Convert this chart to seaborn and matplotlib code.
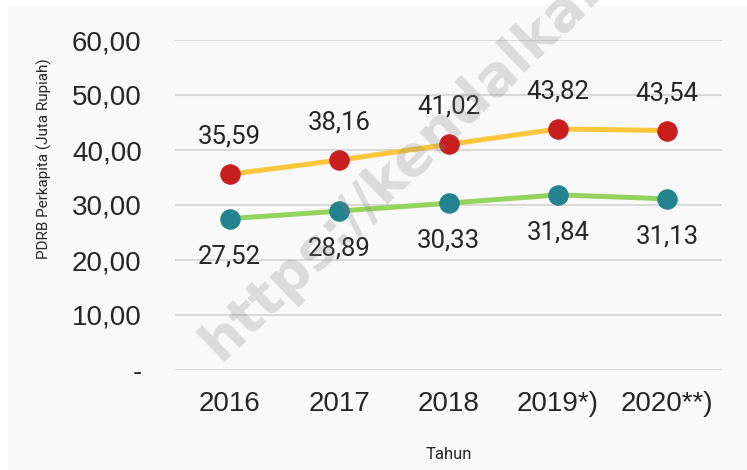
import numpy as np
import pandas as pd
import seaborn as sns
import matplotlib.pyplot as plt
from matplotlib.patches import Rectangle
from matplotlib.ticker import FuncFormatter

years = ["2016", "2017", "2018", "2019*)", "2020**)"]
adhb = [35.59, 38.16, 41.02, 43.82, 43.54]
adhk = [27.52, 28.89, 30.33, 31.84, 31.13]

sns.set_style("white")
plt.rcParams['font.family'] = ['Liberation Sans', 'DejaVu Sans']

fig = plt.figure(figsize=(7.47, 4.70), dpi=100)
fig.patch.set_facecolor("white")
fig.patches.append(Rectangle((8 / 747, 0.0), 1 - 8 / 747, 1 - 5 / 470,
                             transform=fig.transFigure, facecolor="#f9f9f9",
                             edgecolor="none", zorder=-10))
ax = fig.add_axes([175 / 747, 1 - 370 / 470, (722 - 175) / 747, 330 / 470])
ax.set_facecolor("none")

df = pd.DataFrame({"Tahun": years, "adhb": adhb, "adhk": adhk})

sns.lineplot(data=df, x="Tahun", y="adhb", ax=ax, color="#f9c63c", linewidth=3.6,
             marker="o", markersize=14, markerfacecolor="#c81e1e",
             markeredgecolor="#c81e1e", sort=False, zorder=3)
sns.lineplot(data=df, x="Tahun", y="adhk", ax=ax, color="#95d35f", linewidth=3.6,
             marker="o", markersize=14, markerfacecolor="#23838f",
             markeredgecolor="#23838f", sort=False, zorder=3)

for i, v in enumerate(adhb):
    ax.annotate(f"{v:.2f}".replace(".", ","), (i, v), xytext=(0, 27),
                textcoords="offset points", ha="center", va="center",
                fontsize=18.5, color="#262626", family="Roboto")
for i, v in enumerate(adhk):
    ax.annotate(f"{v:.2f}".replace(".", ","), (i, v), xytext=(0, -27),
                textcoords="offset points", ha="center", va="center",
                fontsize=18.5, color="#262626", family="Roboto")

ax.set_ylim(0, 60)
ax.set_xlim(-0.5, 4.5)
ax.set_yticks(np.arange(0, 61, 10))
ax.yaxis.set_major_formatter(FuncFormatter(
    lambda v, p: "-" if v == 0 else f"{v:.2f}".replace(".", ",")))
ax.grid(axis="y", color="#d9d9d9", linewidth=1.5, zorder=0)
ax.set_axisbelow(True)
for s in ax.spines.values():
    s.set_visible(False)
ax.tick_params(axis="y", length=0, pad=24, labelsize=20, labelcolor="#262626")
ax.tick_params(axis="x", length=0, pad=15, labelsize=20, labelcolor="#262626")

ax.set_xlabel("Tahun", fontsize=12, family="Roboto", color="#262626", labelpad=22)
ax.set_ylabel("PDRB Perkapita (Juta Rupiah)", fontsize=11, family="Roboto",
              color="#262626", labelpad=10)
ax.yaxis.set_label_coords(-0.225, 0.64)

fig.text(220 / 747, 1 - 362 / 470, "https://kendalkab.bps.go.id", rotation=44,
         rotation_mode="anchor", ha="left", va="baseline", fontsize=40,
         fontweight="bold", family="DejaVu Sans", color="#808080", alpha=0.25,
         zorder=10)

fig.savefig("out.png", dpi=100)
